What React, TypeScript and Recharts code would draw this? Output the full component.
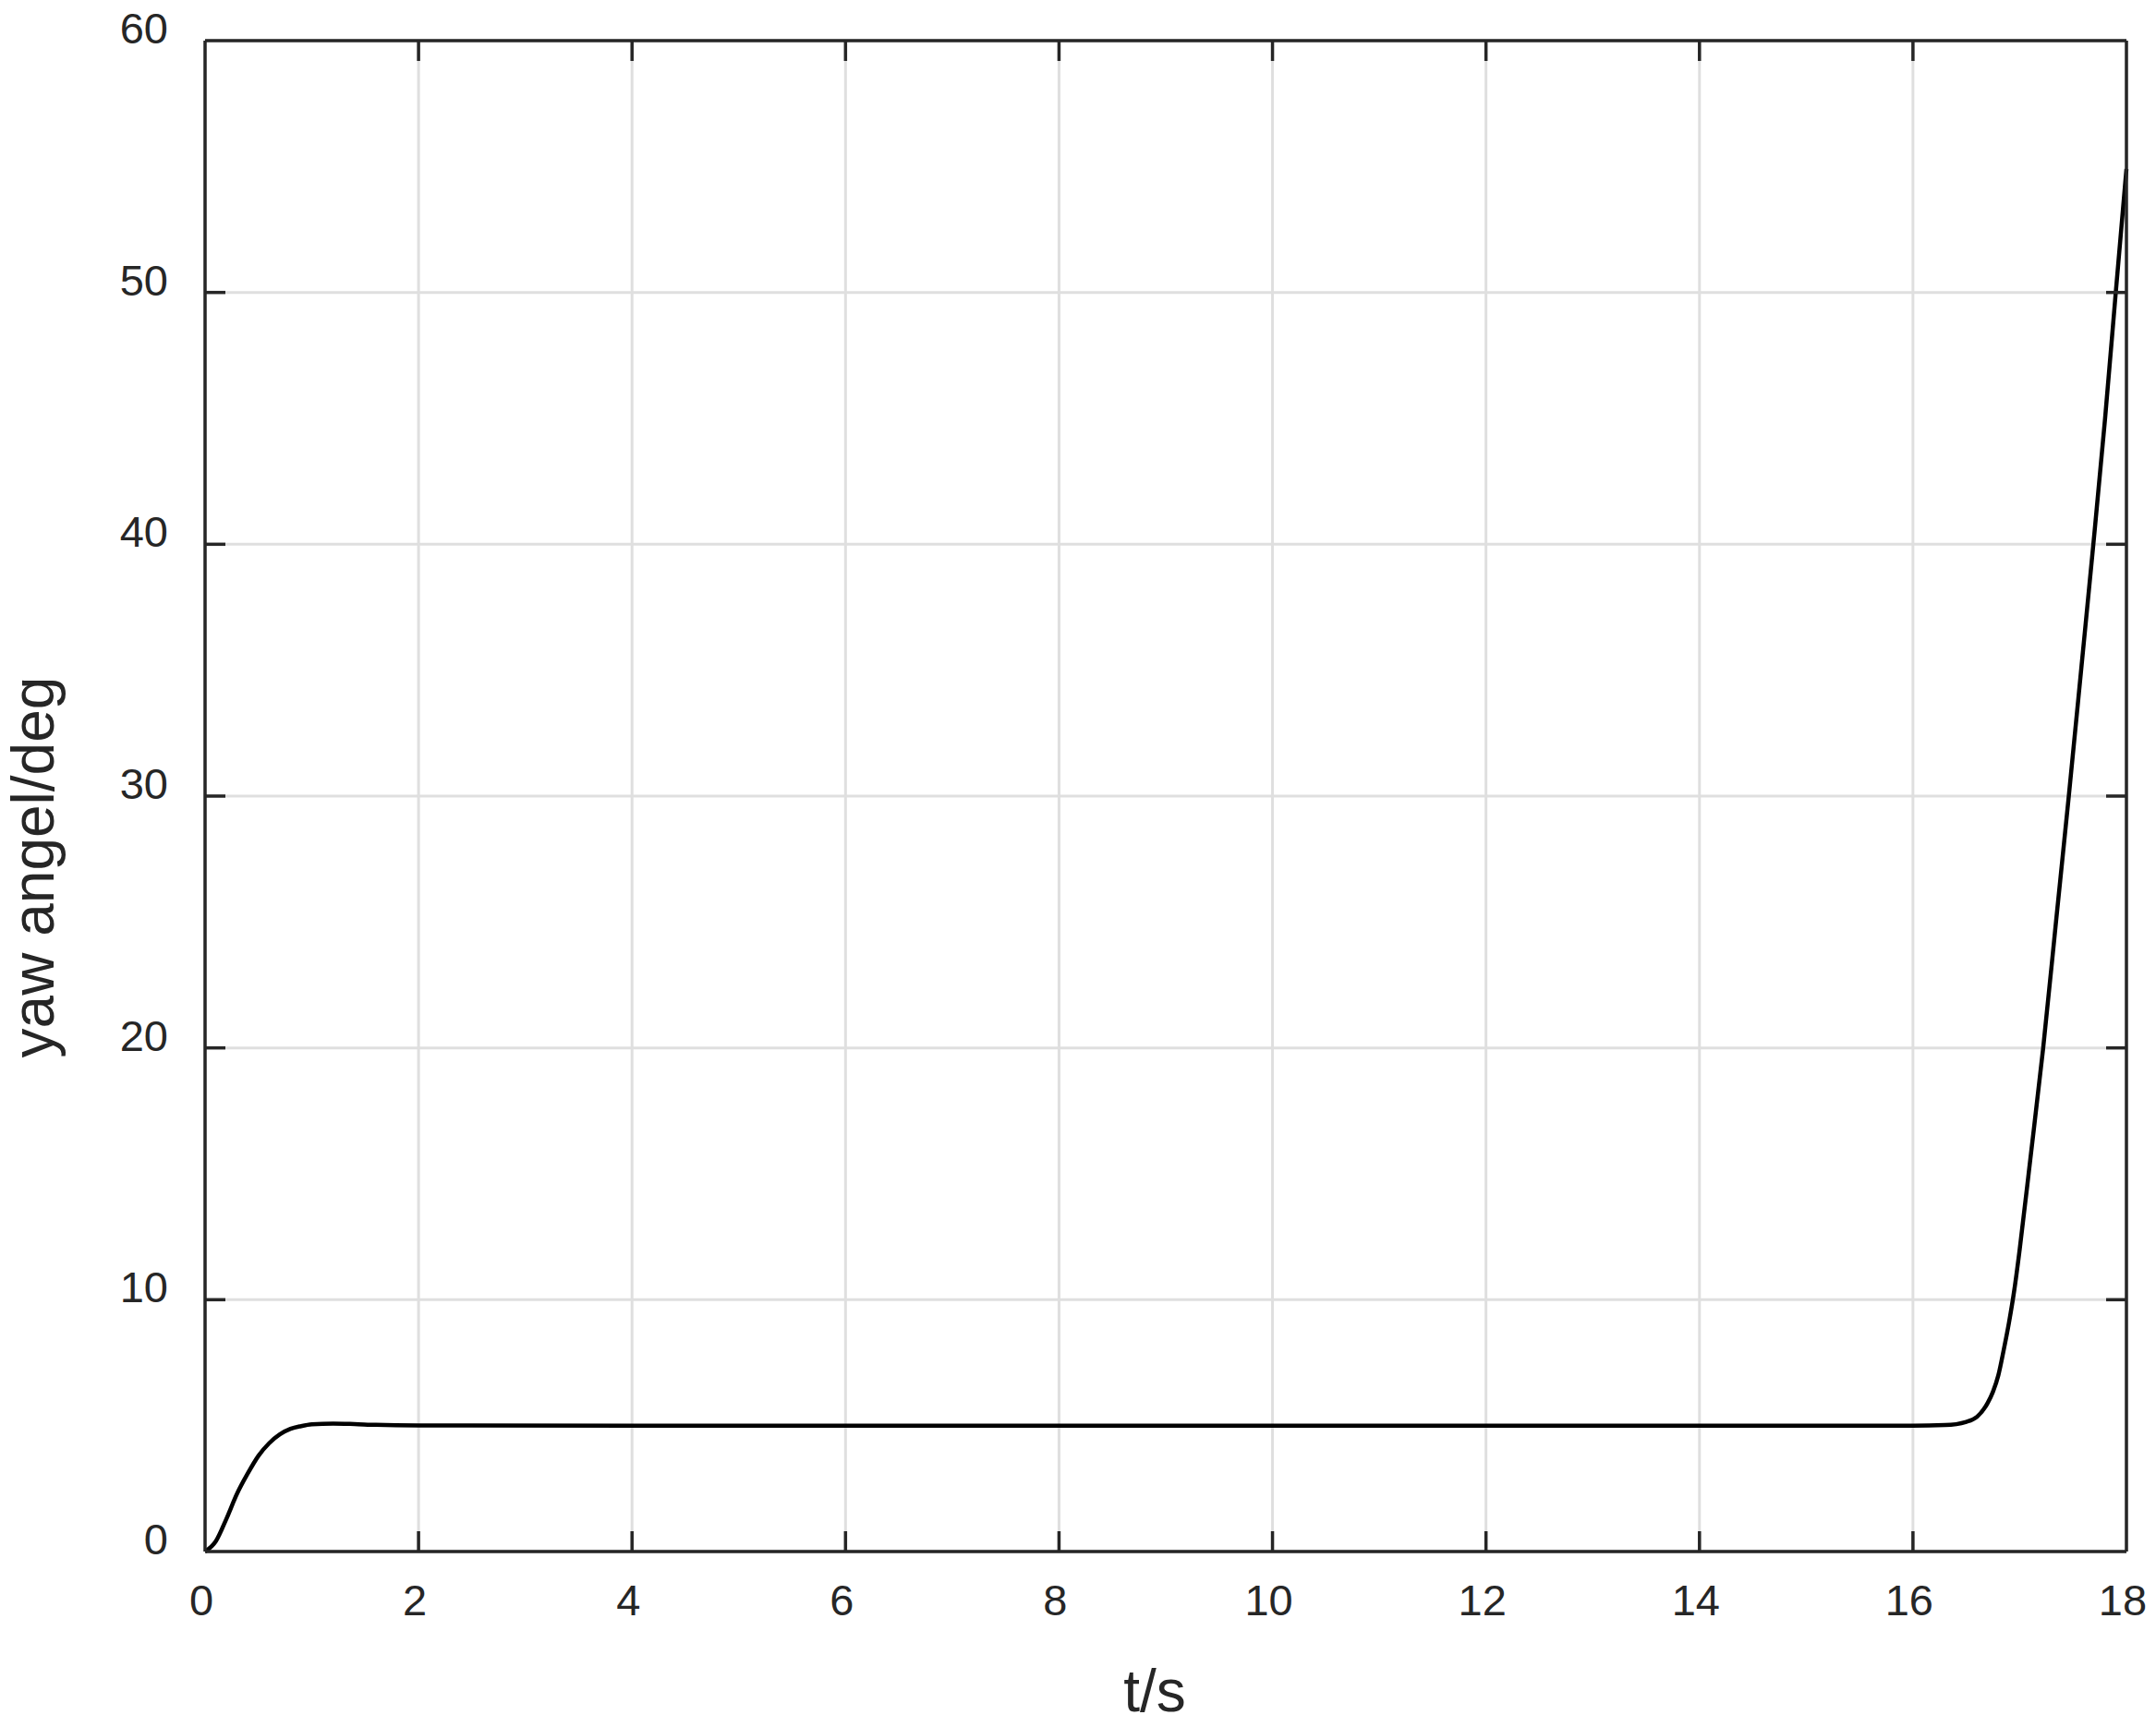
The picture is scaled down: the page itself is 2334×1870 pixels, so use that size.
import React from "react";
import {
  LineChart,
  Line,
  XAxis,
  YAxis,
  CartesianGrid,
  Label,
} from "recharts";

// time samples (s) and yaw angle (deg)
const timeValues = [
  0, 0.1, 0.2, 0.3, 0.4, 0.5, 0.6, 0.7, 0.8, 0.9, 1.0, 1.2, 1.4, 1.6, 2, 4, 6,
  8, 10, 12, 14, 16, 16.3, 16.5, 16.6, 16.7, 16.75, 16.8, 16.85, 16.9, 16.95,
  17.0, 17.1, 17.22, 17.34, 17.46, 17.58, 17.69, 17.8, 17.9, 18.0,
];
const yawValues = [
  0, 0.4, 1.3, 2.3, 3.1, 3.8, 4.3, 4.65, 4.87, 4.98, 5.05, 5.08, 5.06, 5.03,
  5.01, 5.0, 5.0, 5.0, 5.0, 5.0, 5.0, 5.0, 5.02, 5.15, 5.35, 5.9, 6.35, 7.0, 8.0,
  9.1, 10.4, 12.0, 15.6, 20, 25, 30, 35.2, 40, 45, 50, 54.9,
];
const xTicks = [0, 2, 4, 6, 8, 10, 12, 14, 16, 18];
const yTicks = [0, 10, 20, 30, 40, 50, 60];

const data = timeValues.map((t, i) => ({ t, yaw: yawValues[i] }));

const FONT = '"Liberation Sans", Arial, Helvetica, sans-serif';
const INK = "#262626";

// plot box size, used for the inward tick marks on the opposite side
const PLOT_W = 2080;
const PLOT_H = 1636;
const TICK_LEN = 22;
const TICK_W = 3.5;

const XTick = (props: any) => {
  const { x, y, payload } = props;
  const last = payload.value === xTicks[xTicks.length - 1];
  const first = payload.value === xTicks[0];
  return (
    <g>
      {!first && !last && (
        <>
          <line x1={x} x2={x} y1={y} y2={y - TICK_LEN} stroke={INK} strokeWidth={TICK_W} />
          <line x1={x} x2={x} y1={y - PLOT_H} y2={y - PLOT_H + TICK_LEN} stroke={INK} strokeWidth={TICK_W} />
        </>
      )}
      <text x={x - 4} y={y + 69} textAnchor="middle" fill={INK} fontSize={47} fontFamily={FONT}>
        {payload.value}
      </text>
    </g>
  );
};

const YTick = (props: any) => {
  const { x, y, payload } = props;
  const last = payload.value === yTicks[yTicks.length - 1];
  const first = payload.value === yTicks[0];
  return (
    <g>
      {!first && !last && (
        <>
          <line x1={x} x2={x + TICK_LEN} y1={y} y2={y} stroke={INK} strokeWidth={TICK_W} />
          <line x1={x + PLOT_W} x2={x + PLOT_W - TICK_LEN} y1={y} y2={y} stroke={INK} strokeWidth={TICK_W} />
        </>
      )}
      <text x={x - 40} y={y + 3} textAnchor="end" fill={INK} fontSize={47} fontFamily={FONT}>
        {payload.value}
      </text>
    </g>
  );
};

export default function App() {
  const W = 2334;
  const H = 1870;
  const axisStyle = { stroke: INK, strokeWidth: 3.5 };
  return (
    <div style={{ position: "absolute", left: 0, top: 0, width: W, height: H, background: "#fff" }}>
      <LineChart
        width={W}
        height={H}
        data={data}
        margin={{ top: 44, right: 32, left: 122, bottom: 90 }}
      >
        <CartesianGrid stroke="#dfdfdf" strokeWidth={3} xAxisId="main" yAxisId="main" />
        {/* box lines on the top and right sides */}
        <XAxis xAxisId="topBox" orientation="top" mirror tick={false} tickLine={false} axisLine={axisStyle} />
        <YAxis yAxisId="rightBox" orientation="right" mirror tick={false} tickLine={false} axisLine={axisStyle} />
        <XAxis
          xAxisId="main"
          dataKey="t"
          type="number"
          domain={[0, 18]}
          ticks={xTicks}
          interval={0}
          height={100}
          tickSize={0}
          tickMargin={0}
          tickLine={false}
          axisLine={axisStyle}
          tick={<XTick />}
        >
          <Label
            content={() => (
              <text x={1250} y={1853} textAnchor="middle" fill={INK} fontSize={64} fontFamily={FONT}>
                t/s
              </text>
            )}
          />
        </XAxis>
        <YAxis
          yAxisId="main"
          type="number"
          domain={[0, 60]}
          ticks={yTicks}
          interval={0}
          width={100}
          tickSize={0}
          tickMargin={0}
          tickLine={false}
          axisLine={axisStyle}
          tick={<YTick />}
        >
          <Label
            content={() => (
              <text
                x={58}
                y={939}
                transform="rotate(-90, 58, 939)"
                textAnchor="middle"
                fill={INK}
                fontSize={64}
                fontFamily={FONT}
              >
                yaw angel/deg
              </text>
            )}
          />
        </YAxis>
        <Line
          xAxisId="main"
          yAxisId="main"
          type="monotone"
          dataKey="yaw"
          stroke="#000"
          strokeWidth={4.5}
          dot={false}
          activeDot={false}
          isAnimationActive={false}
        />
      </LineChart>
    </div>
  );
}
